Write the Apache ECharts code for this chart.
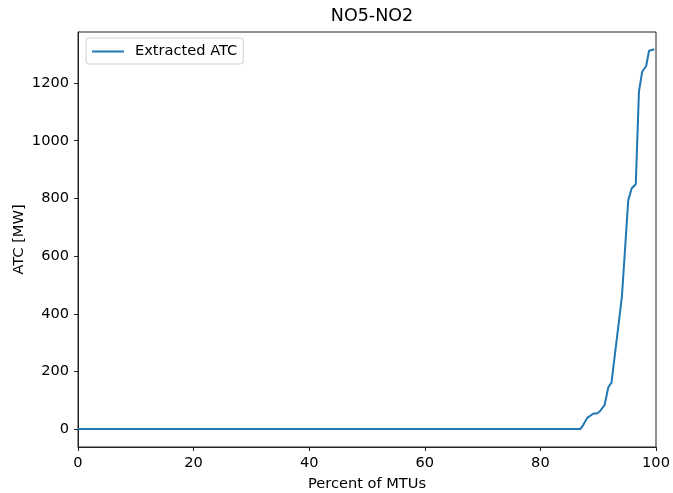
<!DOCTYPE html>
<html>
<head>
<meta charset="utf-8">
<script src="https://cdn.jsdelivr.net/npm/echarts@6/dist/echarts.min.js"></script>
<style>html,body{margin:0;padding:0;background:#fff}#c{width:673px;height:493px}</style>
</head>
<body>
<div id="c"></div>
<script>
var title = 'NO5-NO2';
var seriesName = 'Extracted ATC';
var xName = 'Percent of MTUs';
var yName = 'ATC [MW]';
var pct = [0, 10, 20, 30, 40, 50, 60, 70, 80, 86.9, 87.4, 88.1, 89.2, 89.8, 90.3, 91.1, 91.75, 92.3, 94.1, 95.2, 95.8, 96.5, 97.05, 97.6, 98.3, 98.8, 99.7];
var atc = [0, 0, 0, 0, 0, 0, 0, 0, 0, 0, 14, 39, 54, 54, 62, 83, 145, 161, 459, 794, 835, 849, 1170, 1239, 1259, 1312, 1317];
var yTicks = [0, 200, 400, 600, 800, 1000, 1200];

var data = pct.map(function (p, i) { return [p, atc[i]]; });
var chart = echarts.init(document.getElementById('c'));
var font = 'DejaVu Sans';
var fs = 14.6;
chart.setOption({
  animation: false,
  textStyle: { fontFamily: font },
  title: { text: title, left: 367, textAlign: 'center', top: 2, textStyle: { fontFamily: font, fontSize: 17.5, fontWeight: 'normal', color: '#000' } },
  legend: {
    left: 86, top: 38, orient: 'vertical',
    borderColor: '#d0d0d0', borderWidth: 1, borderRadius: 3, padding: [6, 6, 5, 6],
    itemWidth: 32, itemHeight: 2, itemGap: 5,
    textStyle: { fontFamily: font, fontSize: fs, color: '#000', padding: [0, 0, 0, 6] },
    data: [{ name: seriesName, icon: 'rect' }]
  },
  grid: { left: 78, right: 17, top: 32, bottom: 46, containLabel: false, outerBoundsMode: 'none', show: true, borderColor: '#222', borderWidth: 1, backgroundColor: 'transparent' },
  xAxis: {
    type: 'value', min: 0, max: 100, interval: 20,
    name: xName, nameLocation: 'middle', nameGap: 30, nameMoveOverlap: false,
    nameTextStyle: { fontFamily: font, fontSize: fs, color: '#000' },
    axisLine: { show: true, onZero: false, lineStyle: { color: '#222', width: 1 } },
    axisTick: { show: true, length: 4, lineStyle: { color: '#222' } },
    axisLabel: { fontFamily: font, fontSize: fs, color: '#000', margin: 9 },
    splitLine: { show: false }
  },
  yAxis: {
    type: 'value', min: -62, max: 1377,
    name: yName, nameLocation: 'middle', nameGap: 51, nameMoveOverlap: false,
    nameTextStyle: { fontFamily: font, fontSize: fs, color: '#000' },
    axisLine: { show: true, onZero: false, lineStyle: { color: '#222', width: 1 } },
    axisTick: { show: true, length: 4, lineStyle: { color: '#222' }, customValues: yTicks },
    axisLabel: { fontFamily: font, fontSize: fs, color: '#000', margin: 9, customValues: yTicks, formatter: function (v) { return String(v); } },
    splitLine: { show: false }
  },
  series: [{
    name: seriesName, type: 'line', data: data, showSymbol: false, symbol: 'none',
    lineStyle: { color: '#1f77b4', width: 2 }, itemStyle: { color: '#1f77b4' }
  }]
});
</script>
</body>
</html>
